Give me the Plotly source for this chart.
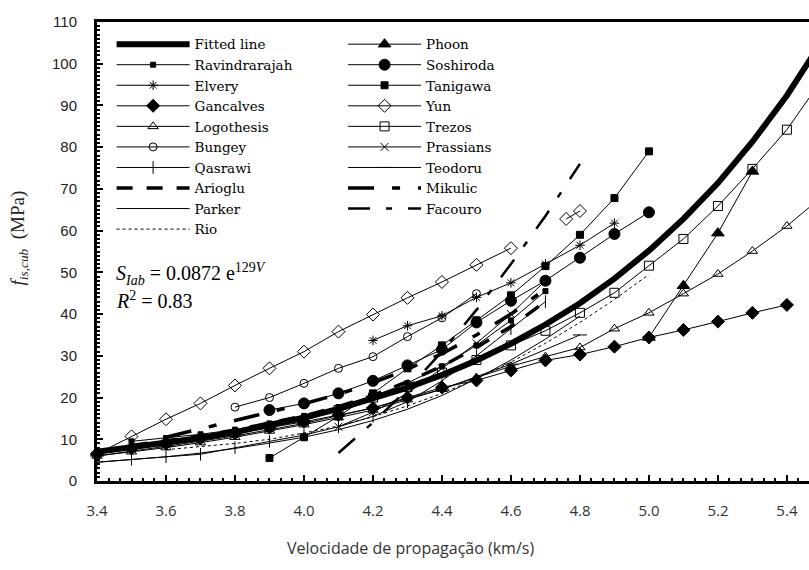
import plotly.graph_objects as go

# ---------------- data ----------------
fit_x = [3.4, 3.5, 3.6, 3.7, 3.8, 3.9, 4.0, 4.1, 4.2, 4.3, 4.4, 4.5, 4.6, 4.7, 4.8, 4.9, 5.0, 5.1, 5.2, 5.3, 5.4, 5.5]
fit_y = [7.0, 8.0, 9.1, 10.3, 11.7, 13.4, 15.2, 17.3, 19.7, 22.4, 25.4, 28.9, 32.9, 37.5, 42.6, 48.5, 55.2, 62.8, 71.4, 81.3, 92.4, 105.2]

rav_x = [3.5, 3.6, 3.7, 3.8, 3.9, 4.0, 4.1, 4.2, 4.3, 4.4, 4.5, 4.6, 4.7]
rav_y = [9.5, 10.3, 11.2, 12.3, 13.8, 15.6, 17.7, 20.3, 23.5, 27.5, 32.5, 38.5, 45.5]

elv_x = [4.2, 4.3, 4.4, 4.5, 4.6, 4.7, 4.8, 4.9]
elv_y = [33.7, 37.2, 39.6, 44.0, 47.5, 52.0, 56.5, 61.8]

gan_x = [3.4, 3.5, 3.6, 3.7, 3.8, 3.9, 4.0, 4.1, 4.2, 4.3, 4.4, 4.5, 4.6, 4.7, 4.8, 4.9, 5.0, 5.1, 5.2, 5.3, 5.4]
gan_y = [6.5, 7.8, 9.0, 10.2, 11.4, 12.8, 14.2, 15.8, 17.5, 20.0, 22.4, 24.1, 26.5, 28.9, 30.3, 32.2, 34.4, 36.2, 38.2, 40.3, 42.2]

log_x = [3.4, 3.5, 3.6, 3.7, 3.8, 3.9, 4.0, 4.1, 4.2, 4.3, 4.4, 4.5, 4.6, 4.7, 4.8, 4.9, 5.0, 5.1, 5.2, 5.3, 5.4, 5.5]
log_y = [6.0, 7.0, 8.0, 9.2, 10.5, 12.0, 13.5, 15.2, 17.0, 19.5, 22.0, 24.8, 27.5, 29.8, 32.0, 36.5, 40.3, 44.9, 49.6, 55.1, 61.1, 68.0]

bun_x = [3.8, 3.9, 4.0, 4.1, 4.2, 4.3, 4.4, 4.5]
bun_y = [17.7, 20.0, 23.4, 27.0, 29.8, 34.6, 39.1, 44.9]

qas_x = [3.4, 3.5, 3.6, 3.7, 3.8, 3.9, 4.0, 4.1, 4.2, 4.3, 4.4, 4.5, 4.6, 4.7]
qas_y = [4.5, 5.2, 5.8, 6.4, 8.0, 9.5, 11.0, 13.0, 15.5, 19.0, 24.0, 30.0, 36.5, 43.0]

ari_x = [3.5, 3.6, 3.7, 3.8, 3.9, 4.0, 4.1, 4.2, 4.3, 4.4, 4.5, 4.6, 4.7]
ari_y = [8.5, 9.6, 10.8, 12.2, 13.8, 15.6, 17.8, 20.5, 23.8, 27.5, 32.0, 37.0, 43.0]

par_x = [3.4, 3.5, 3.6, 3.7, 3.8, 3.9, 4.0, 4.1, 4.2, 4.3, 4.4, 4.5, 4.6, 4.7, 4.8]
par_y = [4.5, 5.1, 5.8, 6.7, 7.8, 9.1, 10.5, 12.3, 14.5, 17.2, 20.5, 24.5, 29.0, 34.0, 39.5]

rio_x = [3.6, 3.7, 3.8, 3.9, 4.0, 4.1, 4.2, 4.3, 4.4, 4.5, 4.6, 4.7, 4.8, 4.9, 5.0]
rio_y = [7.5, 8.2, 9.0, 10.0, 11.5, 13.2, 15.4, 18.0, 21.0, 24.5, 28.5, 33.0, 38.0, 43.5, 49.5]

pho_x = [5.0, 5.1, 5.2, 5.3]
pho_y = [34.4, 46.8, 59.4, 74.2]

sos_x = [3.9, 4.0, 4.1, 4.2, 4.3, 4.4, 4.5, 4.6, 4.7, 4.8, 4.9, 5.0]
sos_y = [17.0, 18.6, 21.0, 24.0, 27.7, 31.5, 38.0, 43.2, 48.0, 53.5, 59.2, 64.4]

tan_x = [3.9, 4.0, 4.1, 4.2, 4.3, 4.4, 4.5, 4.6, 4.7, 4.8, 4.9, 5.0]
tan_y = [5.5, 10.5, 15.5, 21.0, 27.0, 32.5, 38.5, 44.5, 51.5, 59.0, 67.8, 79.0]

yun_x = [3.4, 3.5, 3.6, 3.7, 3.8, 3.9, 4.0, 4.1, 4.2, 4.3, 4.4, 4.5, 4.6]
yun_y = [6.5, 10.7, 14.8, 18.6, 22.9, 27.0, 31.0, 35.8, 39.9, 43.9, 47.7, 51.8, 55.8]
yun2_x = [4.76, 4.80]
yun2_y = [62.8, 64.7]

tre_x = [3.9, 4.0, 4.1, 4.2, 4.3, 4.4, 4.5, 4.6, 4.7, 4.8, 4.9, 5.0, 5.1, 5.2, 5.3, 5.4, 5.5]
tre_y = [13.0, 14.5, 17.0, 20.0, 22.5, 26.0, 29.0, 32.5, 36.0, 40.3, 45.1, 51.6, 58.0, 65.9, 74.8, 84.2, 96.0]

pra_x = [4.1, 4.2, 4.3, 4.4, 4.5, 4.6, 4.7]
pra_y = [13.0, 16.5, 21.0, 27.0, 33.0, 40.0, 48.0]

teo_x = [3.4, 3.6, 3.8, 4.0, 4.2, 4.4, 4.6, 4.8]
teo_y = [6.0, 8.3, 10.8, 13.8, 17.5, 22.0, 28.0, 35.0]

mik_x = [3.6, 3.7, 3.8, 3.9, 4.0, 4.1, 4.2, 4.3, 4.4, 4.5, 4.6, 4.7]
mik_y = [10.5, 12.5, 14.6, 16.5, 18.5, 20.8, 23.5, 26.8, 30.5, 35.0, 40.0, 46.0]

fac_x = [4.1, 4.2, 4.3, 4.4, 4.5, 4.6, 4.7, 4.8]
fac_y = [6.7, 14.0, 22.0, 31.0, 41.0, 52.0, 63.5, 76.0]

x_ticks = [3.4, 3.6, 3.8, 4.0, 4.2, 4.4, 4.6, 4.8, 5.0, 5.2, 5.4]
y_ticks = [0, 10, 20, 30, 40, 50, 60, 70, 80, 90, 100, 110]

# ---------------- figure ----------------
K = "black"
fig = go.Figure()


def add(name, x, y, legend, symbol=None, msize=8, lw=1, dash="solid", showlegend=True):
    marker = dict(color=K, size=msize, symbol=symbol or "circle",
                  line=dict(color=K, width=1))
    fig.add_trace(go.Scatter(
        x=x, y=y, name=name, mode="lines+markers" if symbol else "lines",
        line=dict(color=K, width=lw, dash=dash),
        marker=marker, legend=legend, showlegend=showlegend, cliponaxis=False))


# column 1
add("Fitted line", fit_x, fit_y, "legend", lw=6)
add("Ravindrarajah", rav_x, rav_y, "legend", symbol="square", msize=5)
add("Elvery", elv_x, elv_y, "legend", symbol="asterisk-open", msize=8)
add("Gancalves", gan_x, gan_y, "legend", symbol="diamond", msize=10)
add("Logothesis", log_x, log_y, "legend", symbol="triangle-up-open", msize=9)
add("Bungey", bun_x, bun_y, "legend", symbol="circle-open", msize=8)
add("Qasrawi", qas_x, qas_y, "legend", symbol="line-ns-open", msize=9)
add("Arioglu", ari_x, ari_y, "legend", lw=3.5, dash="16px,14px")
add("Parker", par_x, par_y, "legend", lw=1)
add("Rio", rio_x, rio_y, "legend", lw=1, dash="3px,3px")
# column 2
add("Phoon", pho_x, pho_y, "legend2", symbol="triangle-up", msize=11)
add("Soshiroda", sos_x, sos_y, "legend2", symbol="circle", msize=11)
add("Tanigawa", tan_x, tan_y, "legend2", symbol="square", msize=7)
add("Yun", yun_x, yun_y, "legend2", symbol="diamond-open", msize=10)
add("Trezos", tre_x, tre_y, "legend2", symbol="square-open", msize=9)
add("Prassians", pra_x, pra_y, "legend2", symbol="x-thin-open", msize=8)
add("Teodoru", teo_x, teo_y, "legend2", symbol="line-ew-open", msize=10)
add("Mikulic", mik_x, mik_y, "legend2", lw=3.5, dash="26px,18px,8px,18px")
add("Facouro", fac_x, fac_y, "legend2", lw=2.5, dash="22px,16px,6px,16px")
add("Yun", yun2_x, yun2_y, "legend2", symbol="diamond-open", msize=10, showlegend=False)

legend_font = dict(family="DejaVu Serif, Liberation Serif, serif", size=13.5, color=K)

fig.update_layout(
    width=809, height=570,
    margin=dict(l=97, r=0, t=22, b=89),
    paper_bgcolor="white", plot_bgcolor="white",
    showlegend=True,
    legend=dict(x=0.0205, y=0.985, xanchor="left", yanchor="top", bgcolor="rgba(0,0,0,0)",
                font=legend_font, itemwidth=73, tracegroupgap=0),
    legend2=dict(x=0.3456, y=0.985, xanchor="left", yanchor="top", bgcolor="rgba(0,0,0,0)",
                 font=legend_font, itemwidth=73, tracegroupgap=0),
    xaxis=dict(range=[3.4, 5.464], tickvals=x_ticks, ticktext=[f"{v:.1f}" for v in x_ticks],
               showgrid=False, zeroline=False, showline=True, linecolor=K, linewidth=3,
               mirror=True, ticks="inside", ticklen=6, tickwidth=1.5, tickcolor=K,
               minor=dict(dtick=1/30, tick0=3.4, ticks="inside", ticklen=3, tickcolor=K, showgrid=False),
               tickfont=dict(family="Open Sans", size=15, color="#333333"),
               ticklabelstandoff=14),
    yaxis=dict(range=[0, 110], tickvals=y_ticks, showgrid=False, zeroline=False,
               showline=True, linecolor=K, linewidth=3, mirror=False,
               ticks="inside", ticklen=6, tickwidth=1.5, tickcolor=K,
               minor=dict(dtick=1, ticks="inside", ticklen=3, tickcolor=K, showgrid=False),
               tickfont=dict(family="Liberation Sans Narrow, Liberation Sans", size=15, color="#222222"),
               ticklabelstandoff=14),
    annotations=[
        dict(text="Velocidade de propagação (km/s)", xref="paper", yref="paper",
             x=0.441, y=-0.146, xanchor="center", yanchor="middle", showarrow=False,
             font=dict(family="Open Sans", size=16, color="#333333")),
        dict(text="<i>f</i><sub><i>is,cub</i></sub>  (MPa)", xref="paper", yref="paper",
             x=-0.11, y=0.53, xanchor="center", yanchor="middle", textangle=-90, showarrow=False,
             font=dict(family="Liberation Serif", size=19, color="#222222")),
        dict(text="<i>S</i><sub><i>Iab</i></sub> = 0.0872 e<sup>129<i>V</i></sup>", xref="paper", yref="paper",
             x=0.024, y=0.452, xanchor="left", yanchor="middle", showarrow=False,
             font=dict(family="Liberation Serif", size=20, color=K)),
        dict(text="<i>R</i><sup>2</sup> = 0.83", xref="paper", yref="paper",
             x=0.024, y=0.395, xanchor="left", yanchor="middle", showarrow=False,
             font=dict(family="Liberation Serif", size=20, color=K)),
    ],
)

fig.write_html("out.html")
